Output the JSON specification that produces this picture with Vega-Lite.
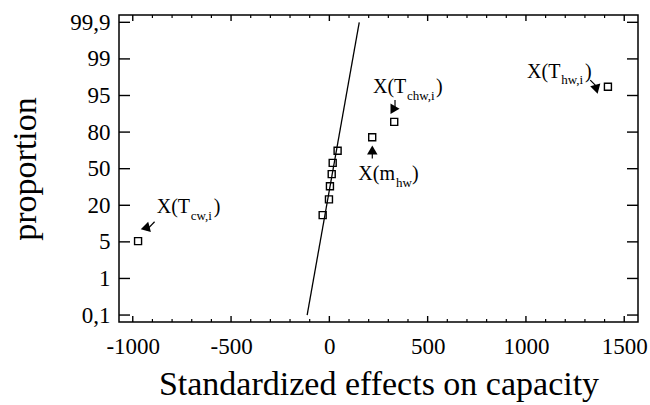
{
  "$schema": "https://vega.github.io/schema/vega-lite/v6.json",
  "width": 519,
  "height": 307,
  "autosize": {"type": "none"},
  "padding": {"left": 119, "top": 15, "right": 12, "bottom": 83},
  "config": {
    "view": {"stroke": "black", "strokeWidth": 1.5},
    "font": "Liberation Serif",
    "scale": {"continuousPadding": 0},
    "axis": {
      "domain": false,
      "grid": false,
      "ticks": false,
      "labelOverlap": false,
      "labelFont": "Liberation Serif",
      "labelFontSize": 23,
      "labelColor": "black",
      "titleFont": "Liberation Serif",
      "titleFontSize": 34,
      "titleFontWeight": "normal",
      "titleColor": "black"
    }
  },
  "datasets": {
    "effects": [
      {"effect": -973, "p": 2.02},
      {"effect": -34, "p": 2.73},
      {"effect": -2, "p": 3.16},
      {"effect": 3, "p": 3.52},
      {"effect": 12, "p": 3.85},
      {"effect": 17, "p": 4.16},
      {"effect": 42, "p": 4.49},
      {"effect": 218, "p": 4.86},
      {"effect": 330, "p": 5.28},
      {"effect": 1417, "p": 6.24}
    ],
    "fit": [
      {"effect": -113, "p": 0},
      {"effect": 152, "p": 8}
    ],
    "xticks": [
      {"v": -1000, "kind": "major"}, {"v": -900, "kind": "minor"}, {"v": -800, "kind": "minor"}, {"v": -700, "kind": "minor"}, {"v": -600, "kind": "minor"},
      {"v": -500, "kind": "major"}, {"v": -400, "kind": "minor"}, {"v": -300, "kind": "minor"}, {"v": -200, "kind": "minor"}, {"v": -100, "kind": "minor"},
      {"v": 0, "kind": "major"}, {"v": 100, "kind": "minor"}, {"v": 200, "kind": "minor"}, {"v": 300, "kind": "minor"}, {"v": 400, "kind": "minor"},
      {"v": 500, "kind": "major"}, {"v": 600, "kind": "minor"}, {"v": 700, "kind": "minor"}, {"v": 800, "kind": "minor"}, {"v": 900, "kind": "minor"},
      {"v": 1000, "kind": "major"}, {"v": 1100, "kind": "minor"}, {"v": 1200, "kind": "minor"}, {"v": 1300, "kind": "minor"}, {"v": 1400, "kind": "minor"},
      {"v": 1500, "kind": "major"}
    ],
    "yticks": [
      {"v": 0}, {"v": 1}, {"v": 2}, {"v": 3}, {"v": 4}, {"v": 5}, {"v": 6}, {"v": 7}, {"v": 8}
    ],
    "arrows": [
      {"x1": -889, "y1": 2.55, "x2": -930, "y2": 2.32, "hx": -924, "hy": 2.36, "dir": "downleft"},
      {"x1": 334, "y1": 5.874, "x2": 334, "y2": 5.62, "hx": 334, "hy": 5.64, "dir": "down"},
      {"x1": 218.4, "y1": 4.281, "x2": 218.4, "y2": 4.53, "hx": 218.4, "hy": 4.51, "dir": "up"},
      {"x1": 1327, "y1": 6.421, "x2": 1368, "y2": 6.2, "hx": 1362, "hy": 6.24, "dir": "downright"}
    ],
    "labels": [
      {"x": -878, "p": 2.787, "t": "X(T", "part": "main"},
      {"x": -705, "p": 2.596, "t": "cw,i", "part": "sub"},
      {"x": -588, "p": 2.787, "t": ")", "part": "main"},
      {"x": 222, "p": 6.066, "t": "X(T", "part": "main"},
      {"x": 395, "p": 5.874, "t": "chw,i", "part": "sub"},
      {"x": 543, "p": 6.066, "t": ")", "part": "main"},
      {"x": 147.5, "p": 3.689, "t": "X(m", "part": "main"},
      {"x": 339, "p": 3.497, "t": "hw", "part": "sub"},
      {"x": 420.6, "p": 3.689, "t": ")", "part": "main"},
      {"x": 1006, "p": 6.475, "t": "X(T", "part": "main"},
      {"x": 1179, "p": 6.311, "t": "hw,i", "part": "sub"},
      {"x": 1301, "p": 6.475, "t": ")", "part": "main"}
    ]
  },
  "resolve": {"axis": {"x": "independent", "y": "independent"}},
  "layer": [
    {
      "data": {"name": "fit"},
      "mark": {"type": "line", "color": "black", "strokeWidth": 1.3},
      "encoding": {
        "x": {
          "field": "effect", "type": "quantitative",
          "scale": {"domain": [-1070, 1570], "nice": false, "zero": false, "padding": 0},
          "axis": {"orient": "bottom", "values": [-1000, -500, 0, 500, 1000, 1500], "labelPadding": 13, "labelOverlap": false,
            "labelExpr": "datum.value < 0 ? '-' + (-datum.value) : '' + datum.value",
            "title": "Standardized effects on capacity", "titlePadding": 9}
        },
        "y": {
          "field": "p", "type": "quantitative",
          "scale": {"domain": [-0.19, 8.2], "nice": false, "zero": false, "padding": 0},
          "axis": {"orient": "left", "values": [0, 1, 2, 3, 4, 5, 6, 7, 8], "labelPadding": 9, "labelOverlap": false,
            "labelExpr": "['0,1','1','5','20','50','80','95','99','99,9'][datum.value]",
            "title": "proportion", "titlePadding": 27}
        }
      }
    },
    {
      "data": {"name": "xticks"},
      "transform": [{"filter": "datum.kind === 'major'"}],
      "mark": {"type": "bar", "color": "black", "size": 1.4, "orient": "vertical"},
      "encoding": {
        "x": {"field": "v", "type": "quantitative", "axis": null},
        "y": {"datum": -0.19, "type": "quantitative", "axis": null},
        "y2": {"datum": -0.026}
      }
    },
    {
      "data": {"name": "xticks"},
      "transform": [{"filter": "datum.kind === 'major'"}],
      "mark": {"type": "bar", "color": "black", "size": 1.4, "orient": "vertical"},
      "encoding": {
        "x": {"field": "v", "type": "quantitative", "axis": null},
        "y": {"datum": 8.2, "type": "quantitative", "axis": null},
        "y2": {"datum": 8.036}
      }
    },
    {
      "data": {"name": "xticks"},
      "transform": [{"filter": "datum.kind === 'minor'"}],
      "mark": {"type": "bar", "color": "black", "size": 1.2, "orient": "vertical"},
      "encoding": {
        "x": {"field": "v", "type": "quantitative", "axis": null},
        "y": {"datum": -0.19, "type": "quantitative", "axis": null},
        "y2": {"datum": -0.108}
      }
    },
    {
      "data": {"name": "xticks"},
      "transform": [{"filter": "datum.kind === 'minor'"}],
      "mark": {"type": "bar", "color": "black", "size": 1.2, "orient": "vertical"},
      "encoding": {
        "x": {"field": "v", "type": "quantitative", "axis": null},
        "y": {"datum": 8.2, "type": "quantitative", "axis": null},
        "y2": {"datum": 8.118}
      }
    },
    {
      "data": {"name": "yticks"},
      "mark": {"type": "bar", "color": "black", "size": 1.4, "orient": "horizontal"},
      "encoding": {
        "y": {"field": "v", "type": "quantitative", "axis": null},
        "x": {"datum": -1070, "type": "quantitative", "axis": null},
        "x2": {"datum": -1014}
      }
    },
    {
      "data": {"name": "yticks"},
      "mark": {"type": "bar", "color": "black", "size": 1.4, "orient": "horizontal"},
      "encoding": {
        "y": {"field": "v", "type": "quantitative", "axis": null},
        "x": {"datum": 1570, "type": "quantitative", "axis": null},
        "x2": {"datum": 1514}
      }
    },
    {
      "data": {"name": "effects"},
      "mark": {"type": "point", "shape": "square", "filled": false, "color": "black", "size": 49, "strokeWidth": 1.4, "opacity": 1},
      "encoding": {
        "x": {"field": "effect", "type": "quantitative", "axis": null},
        "y": {"field": "p", "type": "quantitative", "axis": null}
      }
    },
    {
      "data": {"name": "arrows"},
      "mark": {"type": "rule", "color": "black", "strokeWidth": 1.2},
      "encoding": {
        "x": {"field": "x1", "type": "quantitative", "axis": null},
        "y": {"field": "y1", "type": "quantitative", "axis": null},
        "x2": {"field": "x2"},
        "y2": {"field": "y2"}
      }
    },
    {
      "data": {"name": "arrows"},
      "mark": {"type": "point", "shape": "triangle-up", "filled": true, "color": "black", "size": 110, "opacity": 1},
      "encoding": {
        "x": {"field": "hx", "type": "quantitative", "axis": null},
        "y": {"field": "hy", "type": "quantitative", "axis": null},
        "angle": {"field": "dir", "type": "nominal", "scale": {"domain": ["up", "downright", "down", "downleft"], "range": [0, 135, 180, 225]}, "legend": null}
      }
    },
    {
      "data": {"name": "labels"},
      "transform": [{"filter": "datum.part === 'main'"}],
      "mark": {"type": "text", "align": "left", "baseline": "alphabetic", "font": "Liberation Serif", "fontSize": 20, "color": "black"},
      "encoding": {
        "x": {"field": "x", "type": "quantitative", "axis": null},
        "y": {"field": "p", "type": "quantitative", "axis": null},
        "text": {"field": "t"}
      }
    },
    {
      "data": {"name": "labels"},
      "transform": [{"filter": "datum.part === 'sub'"}],
      "mark": {"type": "text", "align": "left", "baseline": "alphabetic", "font": "Liberation Serif", "fontSize": 13, "color": "black"},
      "encoding": {
        "x": {"field": "x", "type": "quantitative", "axis": null},
        "y": {"field": "p", "type": "quantitative", "axis": null},
        "text": {"field": "t"}
      }
    }
  ]
}
